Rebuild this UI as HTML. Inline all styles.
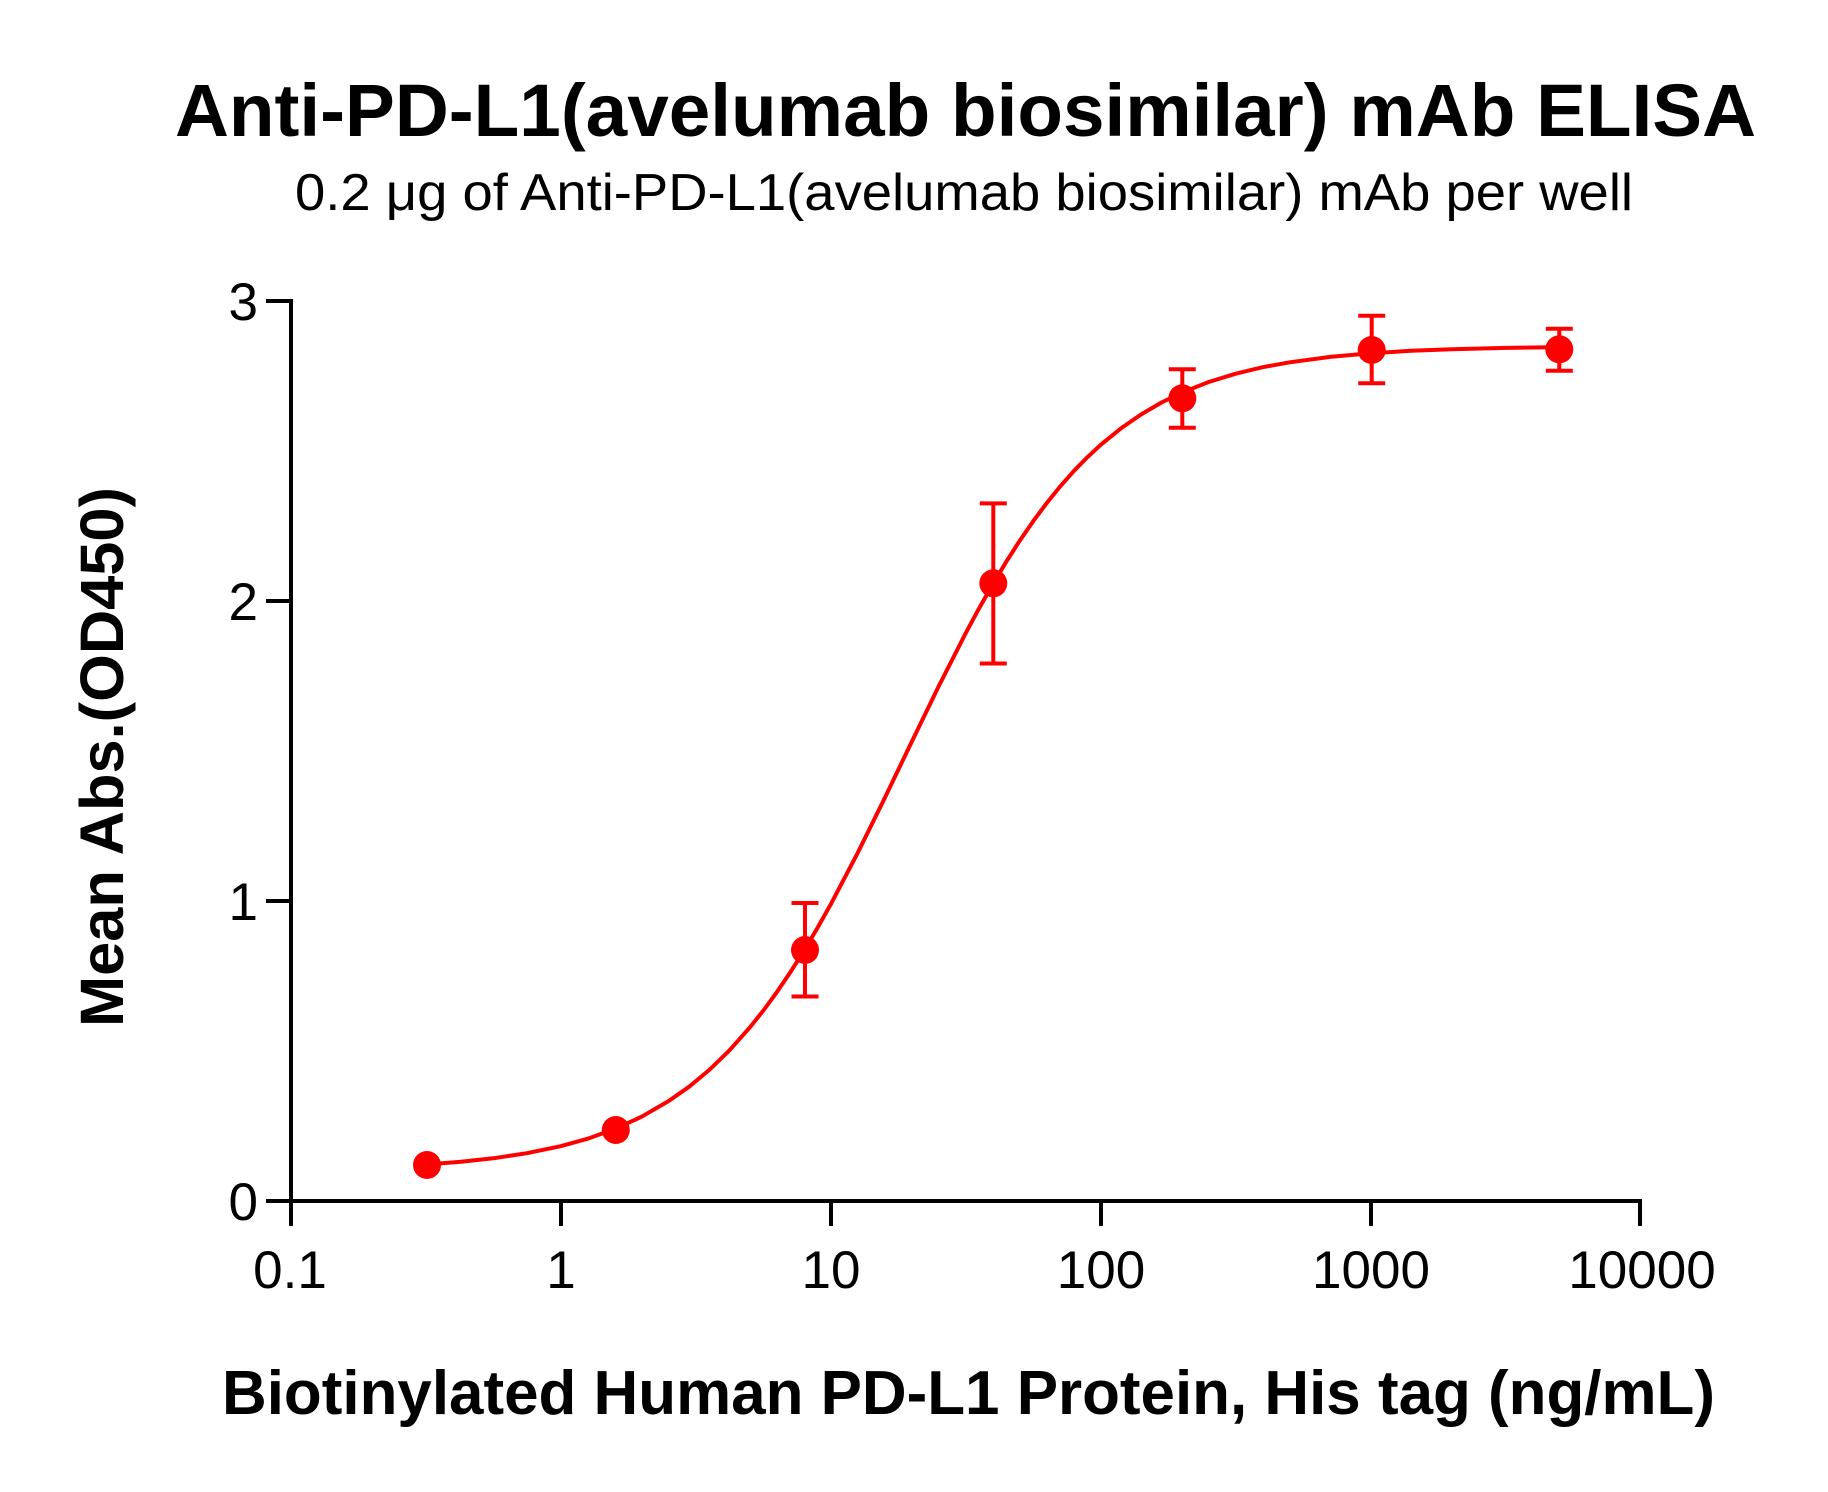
<!DOCTYPE html>
<html>
<head>
<meta charset="utf-8">
<style>
  html, body { margin:0; padding:0; background:#fff; }
  svg { display:block; }
  text { font-family: "Liberation Sans", Arial, sans-serif; fill:#000; }
</style>
</head>
<body>
<svg width="1828" height="1492" viewBox="0 0 1828 1492" xmlns="http://www.w3.org/2000/svg">
  <rect x="0" y="0" width="1828" height="1492" fill="#fff"/>

  <!-- Titles -->
  <text x="175" y="136" font-size="74.5" font-weight="bold" textLength="1581" lengthAdjust="spacingAndGlyphs">Anti-PD-L1(avelumab biosimilar) mAb ELISA</text>
  <text x="295" y="210" font-size="52" textLength="1338" lengthAdjust="spacingAndGlyphs">0.2 μg of Anti-PD-L1(avelumab biosimilar) mAb per well</text>

  <!-- Axes -->
  <g stroke="#000" stroke-width="4" fill="none" stroke-linecap="butt">
    <line x1="291" y1="299" x2="291" y2="1203"/>
    <line x1="266" y1="1201" x2="1642" y2="1201"/>
    <!-- y ticks -->
    <line x1="266" y1="301" x2="291" y2="301"/>
    <line x1="266" y1="601" x2="291" y2="601"/>
    <line x1="266" y1="901" x2="291" y2="901"/>
    <!-- x ticks -->
    <line x1="291" y1="1201" x2="291" y2="1226"/>
    <line x1="561" y1="1201" x2="561" y2="1226"/>
    <line x1="831" y1="1201" x2="831" y2="1226"/>
    <line x1="1101" y1="1201" x2="1101" y2="1226"/>
    <line x1="1371" y1="1201" x2="1371" y2="1226"/>
    <line x1="1640" y1="1199" x2="1640" y2="1226"/>
  </g>

  <!-- Y tick labels -->
  <g font-size="53" text-anchor="end">
    <text x="258" y="320">3</text>
    <text x="258" y="620">2</text>
    <text x="258" y="920">1</text>
    <text x="258" y="1220">0</text>
  </g>

  <!-- X tick labels -->
  <g font-size="53" text-anchor="middle">
    <text x="290" y="1288">0.1</text>
    <text x="561" y="1288">1</text>
    <text x="831" y="1288">10</text>
    <text x="1101" y="1288">100</text>
    <text x="1371" y="1288">1000</text>
    <text x="1642" y="1288">10000</text>
  </g>

  <!-- Axis titles -->
  <text x="222" y="1414" font-size="62" font-weight="bold" textLength="1493" lengthAdjust="spacingAndGlyphs">Biotinylated Human PD-L1 Protein, His tag (ng/mL)</text>
  <text transform="translate(123,1027) rotate(-90)" x="0" y="0" font-size="61" font-weight="bold" textLength="540" lengthAdjust="spacingAndGlyphs">Mean Abs.(OD450)</text>

  <!-- Fitted curve -->
  <polyline fill="none" stroke="#ff0000" stroke-width="4" stroke-linejoin="round" stroke-linecap="round"
    points="427.1,1164.4 459.9,1161.9 493.2,1158.3 526.9,1153.2 560.7,1146.2 587.7,1138.7 614.7,1129.0 641.7,1116.7 668.7,1101.0 689.0,1086.8 709.2,1070.0 729.5,1050.3 749.7,1027.6 763.2,1010.7 776.7,992.4 790.2,972.4 803.7,951.2 817.2,928.4 830.7,904.4 857.7,852.9 884.7,798.1 911.7,741.9 938.7,686.2 965.7,633.2 979.2,608.1 992.7,584.4 1006.2,561.8 1019.7,540.8 1033.2,521.2 1046.7,503.1 1060.2,486.4 1073.7,471.2 1087.2,457.4 1100.7,444.8 1120.9,428.4 1141.2,414.4 1161.5,402.5 1181.7,392.7 1208.7,382.0 1235.7,373.7 1262.7,367.2 1289.7,362.3 1330.2,356.9 1370.7,353.2 1411.2,350.8 1451.7,349.2 1505.7,347.9 1559.4,347.1"/>

  <!-- Error bars -->
  <g stroke="#ff0000" stroke-width="4" fill="none">
    <line x1="805" y1="903" x2="805" y2="996.5"/>
    <line x1="791.5" y1="903" x2="818.5" y2="903"/>
    <line x1="791.5" y1="996.5" x2="818.5" y2="996.5"/>

    <line x1="993.3" y1="503.4" x2="993.3" y2="663.5"/>
    <line x1="979.8" y1="503.4" x2="1006.8" y2="503.4"/>
    <line x1="979.8" y1="663.5" x2="1006.8" y2="663.5"/>

    <line x1="1182.3" y1="369.3" x2="1182.3" y2="427.7"/>
    <line x1="1168.8" y1="369.3" x2="1195.8" y2="369.3"/>
    <line x1="1168.8" y1="427.7" x2="1195.8" y2="427.7"/>

    <line x1="1371.7" y1="315.7" x2="1371.7" y2="383.3"/>
    <line x1="1358.2" y1="315.7" x2="1385.2" y2="315.7"/>
    <line x1="1358.2" y1="383.3" x2="1385.2" y2="383.3"/>

    <line x1="1559.3" y1="328.7" x2="1559.3" y2="370.7"/>
    <line x1="1545.8" y1="328.7" x2="1572.8" y2="328.7"/>
    <line x1="1545.8" y1="370.7" x2="1572.8" y2="370.7"/>
  </g>

  <!-- Markers -->
  <g fill="#ff0000">
    <circle cx="427" cy="1165" r="14"/>
    <circle cx="615.8" cy="1130" r="14"/>
    <circle cx="805" cy="950" r="14"/>
    <circle cx="993.3" cy="583.3" r="14"/>
    <circle cx="1182.3" cy="398.3" r="14"/>
    <circle cx="1371.7" cy="350" r="14"/>
    <circle cx="1559.3" cy="349.3" r="14"/>
  </g>
</svg>
</body>
</html>
